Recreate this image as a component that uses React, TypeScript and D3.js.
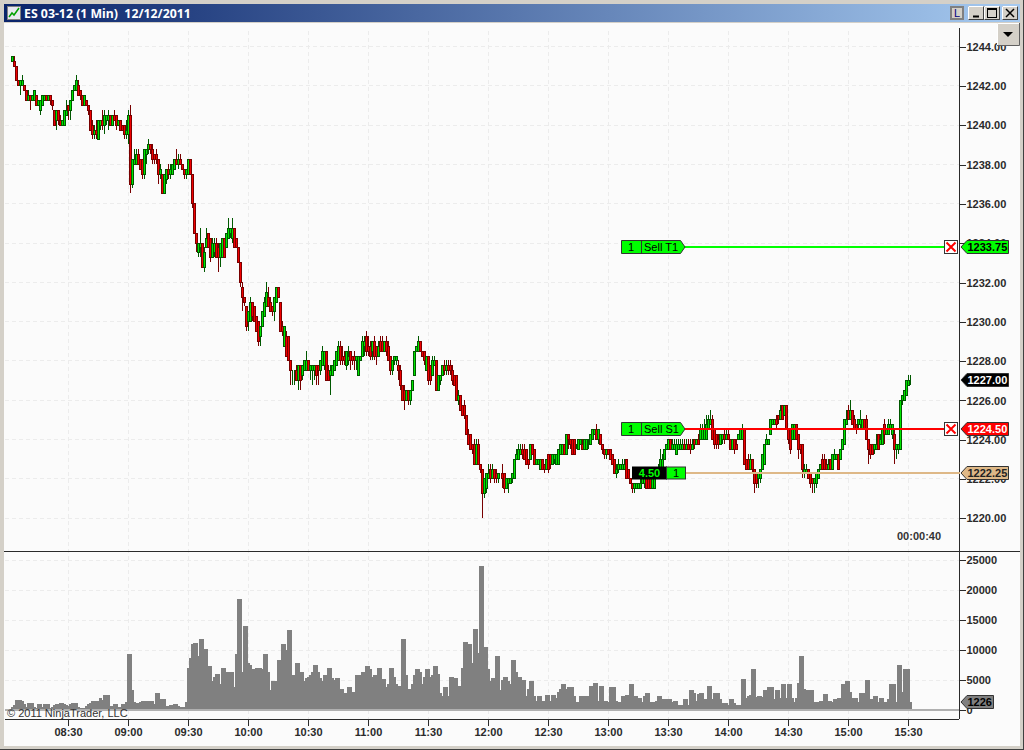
import { useEffect, useRef } from 'react';
import * as d3 from 'd3';

// One [open, close, high, low] per minute, in quarter points above 1220
const bars0802 = [[93,94,94,93],[93,92,94,92],[92,89,92,89],[89,88,89,88],[88,89,89,86],[88,89,90,88],[88,87,88,87],[87,85,87,85],[85,86,87,85],[86,85,86,83],
  [85,86,86,85],[85,87,87,85],[86,84,86,84],[84,85,85,84],[83,85,85,82],[84,86,86,84],[85,86,86,85],[86,85,86,85],[85,86,86,85],[86,85,86,84],
  [85,84,85,83],[83,80,83,80],[81,83,83,79],[83,81,83,80],[81,80,82,80],[80,81,81,80],[80,83,83,80],[82,83,85,82]];
const bars0830 = [[84,83,84,81],[83,85,85,81],[85,87,87,85],[87,88,88,87],[87,89,90,87],[88,86,89,86],[87,86,87,85],[86,84,86,84],[84,86,86,84],[85,84,85,84],
  [84,83,84,82],[83,79,83,79],[80,78,81,77],[78,79,80,77],[79,78,81,77],[77,81,81,77],[80,81,81,79],[81,80,83,79],[80,82,83,78],[81,82,82,80],
  [81,82,83,79],[82,80,82,80],[80,82,82,80],[82,81,83,81],[82,80,82,79],[80,81,81,80],[81,79,81,79],[80,79,80,79],[80,78,80,77],[78,79,81,77]];
const bars0900 = [[78,82,83,76],[82,68,84,66],[68,73,73,67],[72,73,75,72],[72,74,75,72],[74,72,75,72],[73,71,73,71],[73,70,73,69],[70,75,75,69],[74,75,75,72],
  [75,76,77,74],[76,75,76,74],[75,73,76,72],[74,73,74,72],[74,73,75,72],[73,70,73,68],[70,71,72,69],[70,66,70,66],[66,70,70,66],[69,71,71,68],
  [71,70,72,69],[70,71,72,69],[70,72,72,70],[71,73,73,71],[73,72,75,72],[72,73,74,71],[73,72,74,72],[72,71,72,71],[71,70,71,69],[70,71,71,69]];
const bars0930 = [[70,73,73,70],[73,70,73,70],[70,64,70,63],[64,58,64,58],[58,56,58,54],[54,56,56,53],[55,56,59,53],[56,51,56,51],[51,54,55,50],[55,57,59,55],
  [58,55,58,55],[57,53,57,52],[53,56,57,53],[54,56,57,53],[56,53,57,53],[55,53,56,50],[53,56,56,51],[53,57,57,53],[57,53,57,53],[55,58,58,55],
  [57,59,61,57],[58,59,59,57],[57,59,61,56],[59,55,59,55],[57,55,57,55],[55,52,55,52],[52,48,52,47],[47,45,48,42],[45,44,45,43],[43,39,43,38]];
const bars1000 = [[40,42,42,38],[40,44,45,40],[44,41,44,40],[43,40,43,40],[41,38,41,38],[40,36,40,35],[37,39,39,35],[39,42,42,39],[41,44,45,41],[43,46,48,43],
  [45,43,47,43],[44,42,45,42],[43,42,43,41],[42,45,45,40],[44,47,47,44],[47,45,47,45],[44,38,44,38],[39,38,40,37],[35,39,39,35],[37,33,38,33],
  [37,32,37,32],[32,30,32,27],[29,29,30,27],[29,29,30,27],[30,28,31,28],[28,31,31,26],[31,28,31,26],[29,31,31,28],[30,32,32,30],[30,32,34,30]];
const bars1030 = [[32,30,32,30],[30,31,31,28],[30,31,31,27],[30,31,31,28],[31,29,31,27],[31,30,31,27],[30,32,32,29],[31,34,35,31],[31,34,34,30],[34,28,34,28],
  [30,28,31,28],[29,30,31,25],[29,31,31,29],[30,32,32,30],[31,34,34,31],[32,35,36,32],[35,32,36,31],[33,32,35,31],[33,32,34,31],[31,34,34,30],
  [32,33,35,31],[34,32,34,30],[33,32,33,31],[33,32,34,30],[32,33,33,30],[29,33,33,29],[32,33,33,32],[33,36,37,33],[35,36,37,33],[37,34,38,33]];
const bars1100 = [[35,34,37,33],[35,33,36,32],[34,36,36,32],[36,33,37,32],[35,33,35,31],[33,35,36,33],[36,34,37,34],[36,34,37,34],[34,36,36,34],[36,34,37,33],
  [35,32,36,32],[33,30,33,29],[30,32,32,29],[32,33,33,31],[32,33,33,31],[31,30,32,28],[30,27,31,26],[27,24,27,24],[26,24,27,22],[24,26,26,24],
  [26,24,26,23],[24,26,26,23],[26,28,28,26],[29,34,34,29],[34,35,35,34],[34,36,37,34],[36,34,36,34],[34,33,34,33],[34,32,34,31],[30,33,33,30]];
const bars1130 = [[33,28,33,27],[31,28,31,27],[29,32,33,29],[31,32,33,31],[32,26,32,26],[26,29,29,26],[28,29,29,27],[29,31,31,29],[31,30,32,29],[30,31,32,29],
  [31,30,32,29],[31,30,32,29],[30,28,31,27],[29,27,29,27],[29,24,29,24],[24,25,26,23],[25,22,25,22],[23,21,23,21],[23,21,24,20],[21,17,21,17],
  [17,15,18,15],[17,14,17,14],[15,14,15,13],[15,11,16,11],[11,15,16,11],[15,11,16,11],[11,10,11,9],[10,5,10,0],[5,8,8,4],[6,9,9,5]];
const bars1200 = [[8,9,11,8],[10,8,11,7],[8,10,11,8],[10,8,10,7],[9,8,10,7],[8,9,9,7],[9,9,9,9],[9,8,11,6],[9,6,9,5],[6,8,8,6],
  [7,8,8,5],[7,8,8,7],[8,9,9,7],[8,12,12,8],[12,13,14,12],[12,14,15,12],[13,14,15,13],[14,13,15,12],[14,12,15,12],[14,11,14,11],
  [12,11,12,10],[12,15,15,12],[15,13,15,13],[14,11,14,11],[11,12,12,11],[11,12,12,11],[10,12,12,10],[12,10,12,10],[11,10,11,9],[10,12,12,10]];
const bars1230 = [[13,10,13,9],[13,11,13,10],[11,13,13,11],[12,13,13,11],[11,13,13,11],[11,14,14,11],[13,15,15,13],[13,15,15,13],[15,13,15,13],[13,17,17,13],
  [17,16,17,14],[16,15,16,14],[16,13,16,13],[16,13,16,13],[15,15,15,14],[14,16,16,14],[15,16,16,15],[15,14,16,14],[14,16,16,14],[14,16,16,14],
  [15,15,16,14],[15,17,17,15],[16,18,18,16],[17,18,18,17],[18,16,19,16],[16,18,18,15],[17,15,17,15],[15,14,15,13],[14,13,14,12],[13,14,14,12]];
const bars1300 = [[14,13,14,13],[14,12,14,12],[13,11,13,11],[12,9,12,9],[9,10,11,8],[10,11,12,9],[10,11,11,10],[10,11,12,10],[10,11,12,10],[12,8,12,8],
  [10,8,10,8],[8,7,8,7],[7,6,7,5],[6,7,7,5],[6,7,7,6],[6,7,7,6],[6,7,8,6],[7,8,8,7],[7,8,9,6],[8,6,8,6],
  [8,6,8,6],[8,6,8,6],[6,8,8,6],[6,8,8,6],[8,9,10,8],[9,10,11,9],[10,12,14,10],[10,12,13,10],[12,14,14,12],[14,15,15,14]];
const bars1330 = [[14,16,16,14],[16,14,16,14],[14,15,16,14],[14,15,16,14],[13,15,16,13],[14,15,16,14],[14,15,16,14],[14,15,16,14],[15,14,16,14],[14,15,16,14],
  [15,14,16,14],[15,14,16,13],[14,15,16,14],[16,15,16,14],[15,16,16,15],[16,15,17,15],[16,18,19,16],[16,18,19,16],[16,18,20,16],[16,19,21,16],
  [18,20,21,18],[19,20,22,19],[20,16,21,16],[18,15,18,14],[17,15,17,14],[16,15,17,14],[15,17,17,15],[16,17,17,15],[17,16,18,15],[16,17,18,16]];
const bars1400 = [[17,16,18,16],[16,14,16,14],[14,16,16,14],[16,14,16,13],[15,14,16,14],[16,17,17,16],[16,18,18,16],[16,18,19,16],[18,11,18,11],[12,10,12,10],
  [12,10,13,10],[10,12,13,10],[12,10,12,9],[10,7,10,5],[9,7,9,6],[8,9,9,6],[8,10,10,7],[10,13,13,10],[11,15,15,11],[15,16,17,15],
  [15,16,16,15],[17,20,20,17],[19,20,20,19],[19,20,20,19],[20,19,21,18],[21,20,21,19],[20,22,23,20],[23,20,23,20],[21,23,23,21],[23,18,23,18]];
const bars1430 = [[18,16,18,15],[18,14,18,13],[16,19,19,16],[16,19,19,16],[19,16,19,16],[17,14,17,12],[15,14,15,13],[15,10,15,8],[9,10,11,8],[9,10,11,9],
  [10,8,10,8],[9,7,9,6],[8,7,8,5],[7,8,8,5],[7,9,9,6],[8,10,10,8],[10,11,11,10],[12,10,13,10],[12,10,13,10],[11,10,12,10],
  [10,11,12,10],[12,10,12,10],[10,13,13,10],[12,13,14,12],[12,13,13,12],[13,10,13,10],[12,14,14,12],[14,16,16,14],[15,20,20,15],[19,20,22,19]];
const bars1500 = [[22,20,23,20],[20,22,24,20],[22,19,22,19],[20,18,21,18],[19,18,19,17],[19,20,20,18],[19,20,22,18],[18,20,20,18],[20,18,20,18],[20,16,21,16],
  [16,14,16,11],[15,13,15,12],[15,13,15,13],[14,15,15,13],[14,15,17,14],[17,14,17,14],[15,16,17,15],[15,18,18,15],[19,17,20,15],[17,18,18,17],
  [17,19,20,17],[18,19,20,18],[17,19,19,16],[17,14,18,11],[14,15,15,12],[14,15,15,13],[14,24,24,14],[24,25,25,23],[24,26,26,24],[25,28,28,25]];
const bars1530 = [[27,28,29,27],[28,28,29,27]];

const vol0802 = [500,700,1600,1600,1600,1500,900,500,1100,1150,1100,500,300,900,900,500,900,900,900,300,500,700,1000,1000,1100,1150,900,800];
const vol0830 = [650,900,1150,1150,1150,400,300,300,300,650,900,1150,1500,1500,1500,1500,1950,1600,2500,2500,2500,550,650,950,950,500,500,950,950,1200];
const vol0900 = [9200,9200,3300,1300,1100,1100,1300,1500,1500,1500,1500,1500,1500,1000,2700,2700,1700,1700,1700,550,550,830,830,1000,1000,600,400,450,450,1170];
const vol0930 = [6950,8600,11000,11150,11150,9000,11800,11800,10100,10100,7300,7300,4700,5500,6000,6000,4200,7000,7000,6300,6300,6200,6200,3700,9200,18350,18350,6300,14000,14000];
const vol1000 = [7800,7500,6800,6800,7000,7000,7000,6700,9200,9200,6300,3300,4800,4800,4800,8200,8200,11000,11000,10000,13300,13300,5800,5800,7700,7700,6300,6300,4800,5300];
const vol1030 = [5500,5700,6300,7500,7500,6200,5200,4800,5800,5800,7000,7000,5300,5000,5200,5200,3400,3400,2700,2700,3800,3800,2900,2900,5800,5800,5700,6300,6300,7200];
const vol1100 = [7200,6800,5500,5700,5700,7000,7000,5100,5100,3700,4300,7000,7000,5500,4300,4000,4000,11700,11700,5700,3500,3500,4300,5800,6700,6700,6200,4200,5500,6800];
const vol1130 = [6800,5500,5700,7300,7300,6000,2700,2300,3800,3800,2300,5500,5500,5300,5300,4000,4000,7000,11200,11200,11000,11000,7800,13500,13500,9500,24000,24000,10500,10500];
const vol1200 = [6700,4700,5200,5200,9000,9000,3300,5000,5500,5500,4800,4200,8300,8300,6300,5500,5500,5000,5000,2200,3500,4800,4800,2300,1500,2300,2300,1400,1400,2500];
const vol1230 = [2500,1500,2500,2500,1900,3000,3500,4300,4300,3500,3700,3700,3700,2300,1300,1300,2200,2300,2300,2300,2300,4000,4000,4500,4500,1500,4000,4000,1500,1500];
const vol1300 = [1200,3700,3800,3800,1500,1300,1300,2300,2300,2500,2500,4300,4300,2300,2300,2000,2000,1200,2200,2700,2700,1300,1200,1200,1500,2200,2200,1800,1800,1800];
const vol1330 = [1800,1700,1200,1500,1500,800,800,800,1700,1700,800,3300,3300,2800,1500,2600,2800,2800,1800,1800,4000,4000,1800,2800,2800,2800,1800,1100,1100,1100];
const vol1400 = [700,1700,1700,1100,800,800,800,5100,5100,1900,2300,2400,6800,6800,2100,2300,2300,2100,3300,3300,3700,3700,3700,1700,3300,3300,2000,4200,4200,2000];
const vol1430 = [4300,4300,2000,1300,2000,4400,9000,9000,3400,3300,3300,3300,3300,1200,1200,1200,1500,1500,2600,2600,1500,1500,1200,1700,1700,1900,1900,4300,4300,4700];
const vol1500 = [4700,3000,1900,1900,1900,1200,2700,2700,2700,4900,4900,1800,1800,2300,2300,1200,2000,2000,1300,1300,1800,4300,4300,4300,1300,7500,7500,3000,6700,6700];
const vol1530 = [6700,1226];

const timeTicks = ['08:30','09:00','09:30','10:00','10:30','11:00','11:30','12:00','12:30','13:00','13:30','14:00','14:30','15:00','15:30'];
const priceTicks = [1220,1222,1224,1226,1228,1230,1232,1234,1236,1238,1240,1242,1244];
const volumeTicks = [0,5000,10000,15000,20000,25000];

const FIRST_MINUTE = 8 * 60 + 2;
const FONT = '"Liberation Sans", Arial, sans-serif';
const UP = { fill: '#00e600', line: '#005800' };
const DOWN = { fill: '#f00000', line: '#780000' };

const toMinute = (t: string) => +t.slice(0, 2) * 60 + +t.slice(3);

export default function App() {
  const ref = useRef<SVGSVGElement>(null);

  useEffect(() => {
    document.body.style.margin = '0';
    const svg = d3.select(ref.current);
    svg.selectAll('*').remove();

    const bars = [bars0802, bars0830, bars0900, bars0930, bars1000, bars1030, bars1100, bars1130, bars1200, bars1230, bars1300, bars1330, bars1400, bars1430, bars1500, bars1530].flat();
    const volumes = [vol0802, vol0830, vol0900, vol0930, vol1000, vol1030, vol1100, vol1130, vol1200, vol1230, vol1300, vol1330, vol1400, vol1430, vol1500, vol1530].flat();

    const x = d3.scaleLinear().domain([510, 930]).range([68.5, 908.5]);
    const y = d3.scaleLinear().domain([1220, 1244]).range([517.7, 46]);
    const yVol = d3.scaleLinear().domain([0, 25000]).range([709.5, 559.5]);
    const tickPrice = (t: number) => 1220 + t / 4;
    const snap = (v: number) => Math.round(v) + 0.5;

    // window frame
    const defs = svg.append('defs');
    const grad = defs.append('linearGradient').attr('id', 'titleGrad');
    grad.append('stop').attr('offset', '0%').attr('stop-color', '#0a246a');
    grad.append('stop').attr('offset', '100%').attr('stop-color', '#a6caf0');

    svg.append('rect').attr('width', 1024).attr('height', 750).attr('fill', '#d4d0c8');
    svg.append('rect').attr('x', 1023).attr('width', 1).attr('height', 750).attr('fill', '#404040');
    svg.append('rect').attr('y', 749).attr('width', 1024).attr('height', 1).attr('fill', '#404040');
    svg.append('rect').attr('x', 4).attr('y', 4).attr('width', 1016).attr('height', 18).attr('fill', 'url(#titleGrad)');
    svg.append('rect').attr('x', 4).attr('y', 23).attr('width', 1016).attr('height', 723).attr('fill', '#fbfbfb');

    svg.append('rect').attr('x', 7.5).attr('y', 6.5).attr('width', 13).attr('height', 13).attr('fill', '#e8e8f0').attr('stroke', '#808080');
    svg.append('path').attr('d', 'M9,17 L12,13 L14,15 L19,8').attr('fill', 'none').attr('stroke', '#00a000').attr('stroke-width', 1.5);
    svg.append('text').attr('x', 24).attr('y', 18).attr('fill', '#fff').attr('font-family', '"Noto Sans", sans-serif').attr('font-weight', 700).attr('font-size', 12.3).attr('xml:space', 'preserve').style('white-space', 'pre').text('ES 03-12 (1 Min)  12/12/2011');

    // title bar buttons
    const btn = svg.append('g');
    btn.append('rect').attr('x', 951).attr('y', 7).attr('width', 12).attr('height', 12).attr('fill', '#d4d0c8').attr('stroke', '#808080').attr('stroke-width', 2);
    btn.append('text').attr('x', 957).attr('y', 17).attr('text-anchor', 'middle').attr('font-size', 11).attr('font-family', FONT).attr('fill', '#000080').text('L');
    [968.5, 984.5, 1002.5].forEach((bx) => {
      btn.append('rect').attr('x', bx).attr('y', 6.5).attr('width', 15).attr('height', 13).attr('fill', '#d4d0c8').attr('stroke', '#404040');
      btn.append('path').attr('d', `M${bx},19.5 V6.5 H${bx + 15}`).attr('fill', 'none').attr('stroke', '#fff');
    });
    btn.append('path').attr('d', 'M973,16.5 H979').attr('stroke', '#000').attr('stroke-width', 2);
    btn.append('rect').attr('x', 987.5).attr('y', 8.5).attr('width', 9).attr('height', 9).attr('fill', 'none').attr('stroke', '#000').attr('stroke-width', 1);
    btn.append('path').attr('d', 'M987.5,9.5 H996.5').attr('stroke', '#000');
    btn.append('path').attr('d', 'M1006,9 L1014,17 M1014,9 L1006,17').attr('stroke', '#000').attr('stroke-width', 1.5);

    // grid
    const grid = svg.append('g').attr('stroke', '#ececec').attr('stroke-dasharray', '4,3').attr('shape-rendering', 'crispEdges');
    timeTicks.forEach((t) => {
      const px = snap(x(toMinute(t)) - 0.5);
      grid.append('line').attr('x1', px).attr('x2', px).attr('y1', 31).attr('y2', 719);
    });
    priceTicks.forEach((p) => grid.append('line').attr('x1', 5).attr('x2', 959).attr('y1', snap(y(p))).attr('y2', snap(y(p))));
    volumeTicks.slice(1).forEach((v) => grid.append('line').attr('x1', 5).attr('x2', 959).attr('y1', snap(yVol(v))).attr('y2', snap(yVol(v))));

    // volume
    svg.append('g').attr('fill', '#808080').attr('shape-rendering', 'crispEdges')
      .selectAll('rect').data(volumes).join('rect')
      .attr('x', (_, i) => x(FIRST_MINUTE + i) - 1.5)
      .attr('y', (d) => yVol(d))
      .attr('width', 3)
      .attr('height', (d) => yVol(0) - yVol(d));
    svg.append('rect').attr('x', 5).attr('y', 709).attr('width', 955).attr('height', 2).attr('fill', '#b0b0b0');

    // candles
    const candles = svg.append('g').attr('shape-rendering', 'crispEdges');
    bars.forEach(([o, c, h, l], i) => {
      const cx = x(FIRST_MINUTE + i);
      const col = c >= o ? UP : DOWN;
      candles.append('line').attr('x1', cx).attr('x2', cx)
        .attr('y1', y(tickPrice(h))).attr('y2', y(tickPrice(l))).attr('stroke', col.line);
      const top = snap(y(tickPrice(Math.max(o, c))));
      const bottom = snap(y(tickPrice(Math.min(o, c))));
      candles.append('rect').attr('x', cx - 1).attr('y', top).attr('width', 2).attr('height', bottom - top)
        .attr('fill', col.fill).attr('stroke', col.line);
    });

    // axes
    const axisLines = svg.append('g').attr('stroke', '#2a2a2a').attr('shape-rendering', 'crispEdges');
    axisLines.append('line').attr('x1', 959.5).attr('x2', 959.5).attr('y1', 28).attr('y2', 719);
    axisLines.append('line').attr('x1', 4).attr('x2', 1020).attr('y1', 551.5).attr('y2', 551.5);
    axisLines.append('line').attr('x1', 5).attr('x2', 959).attr('y1', 719.5).attr('y2', 719.5);

    const styleAxis = (g: any) => {
      g.select('.domain').remove();
      g.selectAll('line').attr('stroke', '#2a2a2a').attr('shape-rendering', 'crispEdges');
      g.selectAll('text').attr('fill', '#2a2a2a').attr('font-family', FONT).attr('font-weight', 700).attr('font-size', 11);
    };
    svg.append('g').attr('transform', 'translate(959.5,0.7)')
      .call(d3.axisRight(y).tickValues(priceTicks).tickSize(6).tickPadding(1).tickFormat((d: any) => d3.format('.2f')(d)) as any)
      .call(styleAxis);
    svg.append('g').attr('transform', 'translate(959.5,0.3)')
      .call(d3.axisRight(yVol).tickValues(volumeTicks).tickSize(6).tickPadding(1).tickFormat((d: any) => String(d)) as any)
      .call(styleAxis);
    svg.append('g').attr('transform', 'translate(-0.5,719.5)')
      .call(d3.axisBottom(x).tickValues(timeTicks.map(toMinute)).tickSize(6).tickPadding(3).tickFormat((_: any, i: number) => timeTicks[i]) as any)
      .call(styleAxis);

    svg.append('text').attr('x', 7).attr('y', 717).attr('font-family', FONT).attr('font-size', 11).attr('fill', '#333').text('\u00a9 2011 NinjaTrader, LLC');
    svg.append('text').attr('x', 897).attr('y', 540).attr('font-family', FONT).attr('font-weight', 700).attr('font-size', 11).attr('fill', '#333').text('00:00:40');

    // order lines
    const lineY = (p: number) => snap(y(p)) - 0.5;
    const orderLine = (price: number, x0: number, x1: number, color: string) =>
      svg.append('line').attr('x1', x0).attr('x2', x1).attr('y1', lineY(price)).attr('y2', lineY(price))
        .attr('stroke', color).attr('stroke-width', 2).attr('shape-rendering', 'crispEdges');
    orderLine(1233.75, 684, 944, '#00ff00');
    orderLine(1224.5, 684, 944, '#ff0000');
    orderLine(1222.25, 686, 960, '#deb887');

    const orderTag = (price: number, label: string) => {
      const cy = lineY(price);
      const g = svg.append('g').attr('font-family', FONT).attr('font-size', 11).attr('fill', '#000');
      g.append('path').attr('d', `M621.5,${cy - 6.5} H680.5 L685,${cy} L680.5,${cy + 6.5} H621.5 Z`).attr('fill', '#00ff00').attr('stroke', '#333');
      g.append('line').attr('x1', 641.5).attr('x2', 641.5).attr('y1', cy - 6.5).attr('y2', cy + 6.5).attr('stroke', '#333');
      g.append('text').attr('x', 631).attr('y', cy + 4).attr('text-anchor', 'middle').text('1');
      g.append('text').attr('x', 644).attr('y', cy + 4).text(label);
    };
    orderTag(1233.75, 'Sell T1');
    orderTag(1224.5, 'Sell S1');

    const closeBox = (price: number) => {
      const cy = lineY(price);
      svg.append('rect').attr('x', 944.5).attr('y', cy - 6.5).attr('width', 13).attr('height', 13).attr('fill', '#fff').attr('stroke', '#333');
      svg.append('path').attr('d', `M946.5,${cy - 4.5} L955.5,${cy + 4.5} M955.5,${cy - 4.5} L946.5,${cy + 4.5}`).attr('stroke', '#ff0000').attr('stroke-width', 2);
    };
    closeBox(1233.75);
    closeBox(1224.5);

    // entry tag
    const entryY = lineY(1222.25);
    svg.append('rect').attr('x', 632).attr('y', entryY - 6.5).attr('width', 35).attr('height', 13).attr('fill', '#000');
    svg.append('text').attr('x', 649.5).attr('y', entryY + 4).attr('text-anchor', 'middle').attr('font-family', FONT).attr('font-weight', 700).attr('font-size', 11).attr('fill', '#00ff00').text('4.50');
    svg.append('rect').attr('x', 666.5).attr('y', entryY - 6).attr('width', 19).attr('height', 12).attr('fill', '#00ff00').attr('stroke', '#333');
    svg.append('text').attr('x', 676).attr('y', entryY + 4).attr('text-anchor', 'middle').attr('font-family', FONT).attr('font-size', 11).text('1');

    // price tags on the axis
    const priceTag = (cy: number, text: string, fill: string, color: string, width = 47) => {
      svg.append('path').attr('d', `M961,${cy} L967,${cy - 6.5} H${961 + width}.5 V${cy + 6.5} H967 Z`).attr('fill', fill).attr('stroke', '#333');
      svg.append('text').attr('x', 967.5).attr('y', cy + 4).attr('font-family', FONT).attr('font-weight', 700).attr('font-size', 11).attr('fill', color).text(text);
    };
    priceTag(lineY(1233.75), '1233.75', '#00ff00', '#000');
    priceTag(lineY(1224.5), '1224.50', '#ff0000', '#fff');
    priceTag(lineY(1222.25), '1222.25', '#deb887', '#222');
    priceTag(lineY(1227), '1227.00', '#000', '#fff');
    priceTag(702, '1226', '#808080', '#000', 32);

    // dropdown button
    svg.append('rect').attr('x', 997).attr('y', 23).attr('width', 22).attr('height', 23).attr('fill', '#d4d0c8');
    svg.append('path').attr('d', 'M997.5,46 V23.5 H1019').attr('fill', 'none').attr('stroke', '#fff');
    svg.append('path').attr('d', 'M997,45.5 H1019.5 V23').attr('fill', 'none').attr('stroke', '#606060');
    svg.append('path').attr('d', 'M1003,32 H1013 L1008,37 Z').attr('fill', '#000');
  }, []);

  return <svg ref={ref} width={1024} height={750} style={{ position: 'fixed', left: 0, top: 0, display: 'block' }} />;
}
